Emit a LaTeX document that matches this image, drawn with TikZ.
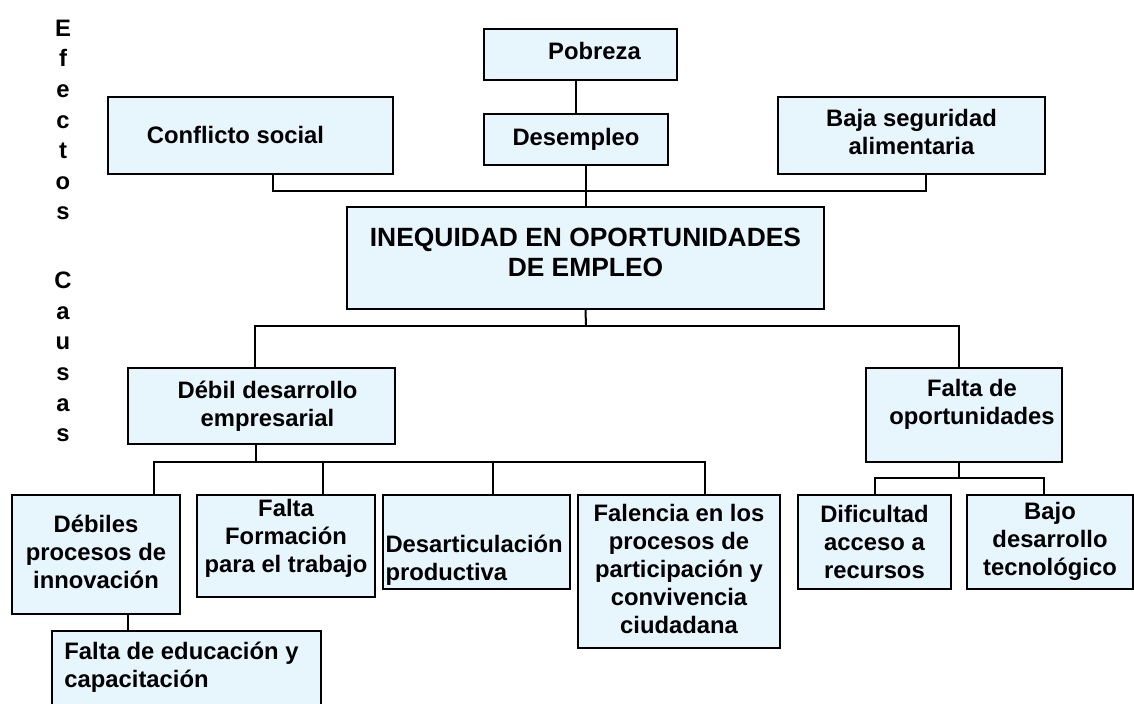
\documentclass[tikz,border=0pt]{standalone}
\usepackage{fontspec}
\setmainfont{Liberation Sans}
\usepackage{tikz}
\usetikzlibrary{positioning}
\definecolor{cajafill}{HTML}{E7F5FD}

\tikzset{
  caja/.style={draw=black, line width=1pt, fill=cajafill, inner sep=0pt,
    align=center, font=\bfseries\fontsize{11.9}{14}\selectfont},
  conector/.style={line width=1pt},
  letras/.style={align=center, font=\bfseries\fontsize{11.9}{15.3}\selectfont},
}

\begin{document}
\begin{tikzpicture}[x=0.5pt, y=-0.5pt]
\clip (0,0) rectangle (1134,704);
\fill[white] (0,0) rectangle (1134,704);

% efectos
\node[caja, minimum width=96.5pt, minimum height=25.5pt] (pob) at (580.5,54.5) {\hspace*{14pt}Pobreza\\[-10pt]};
\node[caja, minimum width=92pt, minimum height=25.5pt] (des) at (576,139.5) {Desempleo};
\node[caja, minimum width=142.5pt, minimum height=38.5pt] (conf) at (250.5,135.5) {Conflicto social\hspace*{15pt}};
\node[caja, minimum width=133.5pt, minimum height=38.5pt] (baja) at (911.5,135.5) {Baja seguridad\\alimentaria\\[-10pt]};

% problema central
\node[caja, minimum width=238.5pt, minimum height=51pt, font=\bfseries\fontsize{13.2}{15}\selectfont] (ineq) at (585.5,258) {INEQUIDAD EN OPORTUNIDADES\\DE EMPLEO\\[-9.5pt]};

% causas
\node[caja, minimum width=133.5pt, minimum height=38pt] (debil) at (261.5,406) {\hspace*{6pt}D\'ebil desarrollo\\\hspace*{6pt}empresarial};
\node[caja, minimum width=98pt, minimum height=47pt] (falta) at (964,415) {\hspace*{8pt}Falta de\\\hspace*{8pt}oportunidades\\[-1pt]};
\node[caja, minimum width=84pt, minimum height=59.5pt] (debiles) at (96,554.5) {D\'ebiles\\procesos de\\innovaci\'on\\[-11.5pt]};
\node[caja, minimum width=89pt, minimum height=51pt] (formac) at (286,546) {Falta\\Formaci\'on\\para el trabajo\\[-3.5pt]};
\node[caja, minimum width=93.5pt, minimum height=47pt, text width=91pt, align=left] (desart) at (476.5,542) {\\[13pt]Desarticulaci\'on\\productiva};
\node[caja, minimum width=101pt, minimum height=76.5pt] (falen) at (679,571.5) {Falencia en los\\procesos de\\participaci\'on y\\convivencia\\ciudadana\\[-11pt]};
\node[caja, minimum width=76.5pt, minimum height=47pt] (dific) at (874.5,542) {Dificultad\\acceso a\\recursos};
\node[caja, minimum width=83pt, minimum height=47pt] (bajo) at (1050,542) {Bajo\\desarrollo\\tecnol\'ogico\\[-11pt]};
\node[caja, minimum width=134.5pt, minimum height=38pt, align=left] (educ) at (186.5,669) {Falta de educaci\'on y\hspace*{5pt}\\capacitaci\'on\\[-10pt]};

% letras laterales
\node[letras] (efectos) at (63,120) {E\\f\\e\\c\\t\\o\\s};
\node[letras] (causas) at (63,357) {C\\a\\u\\s\\a\\s};

% conectores
\coordinate (busefe) at (586,191);
\coordinate (buscau) at (586,326);
\coordinate (busdeb) at (256,462);
\coordinate (busfal) at (959,478);
\draw[conector] (des.north) -- (des.north |- pob.south);
\draw[conector] ([xshift=11.25pt]conf.south) |- (busefe) -| ([xshift=7.25pt]baja.south);
\draw[conector] (ineq.north) -- (ineq.north |- des.south);
\draw[conector] (ineq.south) -- (buscau);
\draw[conector] ([xshift=-3.25pt]debil.north) |- (buscau) -| ([xshift=-2.5pt]falta.north);
\draw[conector] ([xshift=-2.75pt]debil.south) -- (busdeb);
\draw[conector] ([xshift=29pt]debiles.north) |- (busdeb) -| ([xshift=13pt]falen.north);
\draw[conector] ([xshift=18.5pt]formac.north) -- ([xshift=18.5pt]formac.north |- busdeb);
\draw[conector] ([xshift=8.25pt]desart.north) -- ([xshift=8.25pt]desart.north |- busdeb);
\draw[conector] ([xshift=-2.5pt]falta.south) -- (busfal);
\draw[conector] (dific.north) |- (busfal) -| ([xshift=-3pt]bajo.north);
\draw[conector] ([xshift=16pt]debiles.south) -- ([xshift=16pt]debiles.south |- educ.north);
\end{tikzpicture}
\end{document}
